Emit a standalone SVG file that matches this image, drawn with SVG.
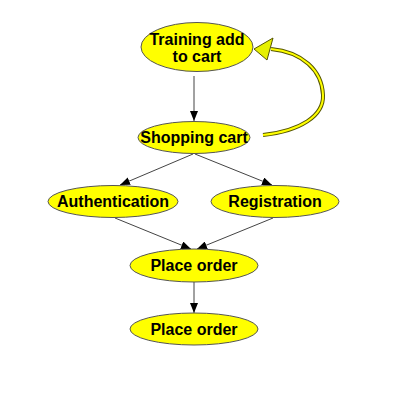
<svg xmlns="http://www.w3.org/2000/svg" width="400" height="408" viewBox="0 0 400 408">
<style>
.node ellipse{fill:#ffff00;stroke:#555555;stroke-width:1}
.node text{font-family:"Liberation Sans",Arial,sans-serif;font-weight:bold;font-size:16px;fill:#000;text-anchor:middle}
.edge{stroke:#444444;stroke-width:1;fill:none;marker-end:url(#arr)}
</style>
<defs>
<marker id="arr" viewBox="0 0 10 8" refX="10" refY="4" markerWidth="10" markerHeight="8" markerUnits="userSpaceOnUse" orient="auto">
<path d="M0,0 L10,4 L0,8 Z" fill="#000"/>
</marker>
</defs>
<rect width="400" height="408" fill="#fff"/>
<g id="connectors">
<line class="edge" x1="194" y1="76" x2="194" y2="121"/>
<line class="edge" x1="193" y1="154" x2="120" y2="185"/>
<line class="edge" x1="195" y1="154" x2="272" y2="185"/>
<line class="edge" x1="115" y1="218" x2="191" y2="249"/>
<line class="edge" x1="273" y1="218" x2="197" y2="249"/>
<line class="edge" x1="194" y1="282" x2="194" y2="313"/>
<g id="loop">
<path d="M263,135 C300,131 324,116 323,95 C322,70 302,52 271,49" fill="none" stroke="#555500" stroke-width="4"/>
<path d="M263,135 C300,131 324,116 323,95 C322,70 302,52 271,49" fill="none" stroke="#ffff00" stroke-width="2"/>
<polygon points="254,49 273,38 267,60" fill="#e6f000" stroke="#555500" stroke-width="1"/>
</g>
</g>
<g id="n-training" class="node">
<ellipse cx="197" cy="47" rx="56" ry="24.5"/>
<text x="197" y="45">Training add</text>
<text x="197" y="62">to cart</text>
</g>
<g id="n-shopping" class="node">
<ellipse cx="194" cy="137.5" rx="56" ry="16"/>
<text x="194" y="143">Shopping cart</text>
</g>
<g id="n-auth" class="node">
<ellipse cx="113" cy="201.5" rx="65" ry="16"/>
<text x="113" y="207">Authentication</text>
</g>
<g id="n-reg" class="node">
<ellipse cx="275" cy="201.5" rx="64" ry="16"/>
<text x="275" y="207">Registration</text>
</g>
<g id="n-place1" class="node">
<ellipse cx="194" cy="265.5" rx="64" ry="16.5"/>
<text x="194" y="271">Place order</text>
</g>
<g id="n-place2" class="node">
<ellipse cx="194" cy="329" rx="64" ry="16"/>
<text x="194" y="334.5">Place order</text>
</g>
</svg>
